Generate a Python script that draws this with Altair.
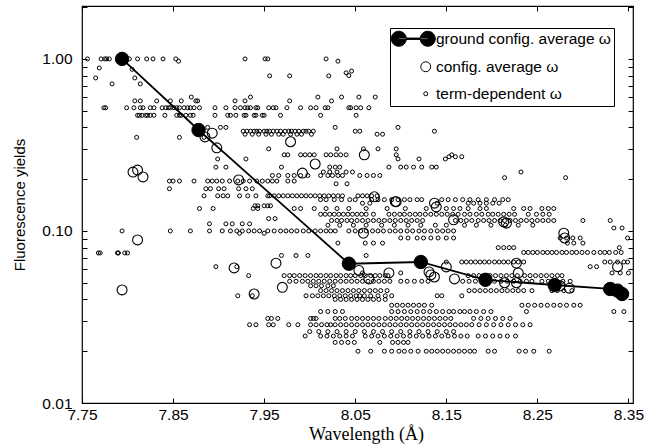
import altair as alt
import pandas as pd

S_G = "ground config. average ω"
S_C = "config. average ω"
S_T = "term-dependent ω"
SERIES = [S_G, S_C, S_T]

# ground configuration average (filled circles joined by a line)
ground_x = [7.794, 7.878, 8.043, 8.122, 8.193, 8.269, 8.330]
ground_y = [1.00, 0.386, 0.0645, 0.066, 0.052, 0.0485, 0.046]
ground_extra_x = [8.338, 8.343]
ground_extra_y = [0.045, 0.043]

# configuration average (open circles)
config_points = [
    (7.811, 0.226), (7.806, 0.220), (7.817, 0.206), (7.885, 0.352), (7.893, 0.370),
    (7.898, 0.304), (7.979, 0.330), (7.922, 0.198), (7.992, 0.217), (8.006, 0.245),
    (8.060, 0.277), (8.071, 0.158), (8.095, 0.148), (8.137, 0.145), (8.158, 0.116),
    (8.213, 0.113), (7.811, 0.0887), (7.794, 0.0454), (7.917, 0.061), (7.939, 0.043),
    (7.963, 0.065), (7.970, 0.047), (8.059, 0.097), (8.054, 0.059), (8.065, 0.0526),
    (8.087, 0.057), (8.131, 0.0578), (8.137, 0.054), (8.150, 0.0618), (8.159, 0.0526),
    (8.214, 0.050), (8.227, 0.050), (8.280, 0.091), (8.285, 0.0465), (8.338, 0.062),
    (8.341, 0.044), (8.139, 0.138), (8.094, 0.148), (8.216, 0.111), (8.229, 0.057),
    (8.275, 0.048), (8.227, 0.065), (8.279, 0.097), (8.133, 0.0555),
]

# term-dependent values, grouped by the horizontal rows they form: (yield, wavelengths)
term_bands = [
    (1.00, [7.756, 7.771, 7.775, 7.777, 7.780, 7.802, 7.811, 7.821, 7.828, 7.839, 7.853,
            7.929, 7.951, 7.954, 8.018]),
    (0.97, [7.856, 8.031]),
    (0.60, [7.870, 7.935, 8.009, 8.035, 8.054, 8.072]),
    (0.57, [7.808, 7.814, 7.832, 7.847, 7.859, 7.875, 7.877, 7.918, 7.929, 7.978, 8.024]),
    (0.52, [7.774, 7.776, 7.799, 7.807, 7.814, 7.817, 7.825, 7.829, 7.838, 7.842, 7.845,
            7.847, 7.851, 7.854, 7.857, 7.862, 7.866, 7.869, 7.873, 7.879, 7.896, 7.908,
            7.918, 7.924, 7.929, 7.932, 7.935, 7.941, 7.943, 7.955, 7.960, 7.963, 7.975,
            7.990, 8.001, 8.007, 8.017, 8.020, 8.043, 8.045, 8.051, 8.056, 8.065]),
    (0.47, [7.811, 7.813, 7.816, 7.820, 7.822, 7.825, 7.829, 7.841, 7.854, 7.857, 7.859,
            7.864, 7.869, 7.872, 7.896, 7.910, 7.913, 7.919, 7.928, 7.930, 7.939, 7.941,
            7.948, 7.950, 7.968, 8.012, 8.051]),
    (0.40, [7.888, 7.902, 7.908, 8.028, 8.097]),
    (0.38, [7.927, 7.931, 7.935, 7.939, 7.942, 7.945, 7.950, 7.953, 7.956, 7.960, 7.964,
            7.968, 7.973, 7.977, 7.980, 7.984, 7.988, 7.993, 7.996, 7.999, 8.004, 8.050,
            8.055, 8.137]),
    (0.365, [7.929, 7.937, 7.944, 7.952, 7.958, 7.966, 7.971, 7.979, 7.986, 7.991, 8.002,
             8.074, 8.080]),
    (0.35, [7.810, 7.857, 7.884]),
    (0.30, [7.955, 8.030, 8.059, 8.075, 8.095]),
    (0.277, [7.972, 7.976, 7.990, 7.995, 8.000, 8.005, 8.018, 8.023, 8.029, 8.034, 8.040,
             8.095, 8.156]),
    (0.27, [8.153, 8.160, 8.167]),
    (0.262, [7.899, 7.930, 8.097, 8.120, 8.149]),
    (0.235, [7.897, 7.908, 7.969, 8.022, 8.028, 8.033, 8.087, 8.100, 8.106, 8.114, 8.123,
             8.134, 8.139]),
    (0.22, [8.015, 8.022, 8.030, 8.040, 8.047, 8.232]),
    (0.21, [7.959, 7.966, 7.976, 7.983, 7.990, 7.998, 8.012, 8.020, 8.025, 8.031, 8.036,
            8.055, 8.063, 8.070, 8.077]),
    (0.204, [8.214, 8.281]),
    (0.195, [7.846, 7.850, 7.857, 7.873, 7.888, 7.893, 7.898, 7.904, 7.912, 7.921, 7.927,
             7.934, 7.942, 7.948, 7.954, 7.959, 7.964, 7.976, 7.983]),
    (0.188, [8.029, 8.041]),
    (0.176, [7.846, 7.886, 7.891, 7.900, 7.906, 7.922, 7.930, 7.937]),
    (0.16, [7.884, 7.899, 7.905, 7.910, 7.923, 7.932, 7.941, 7.954, 7.956, 7.961, 7.966,
            7.971, 7.976, 7.981, 7.986, 7.991, 7.996, 8.001, 8.006, 8.011, 8.016, 8.021,
            8.026, 8.031, 8.036, 8.053, 8.058, 8.063, 8.068, 8.074]),
    (0.152, [8.012, 8.018, 8.027, 8.035, 8.044, 8.050, 8.068, 8.075, 8.082, 8.090, 8.097,
             8.104, 8.110, 8.118, 8.123, 8.145, 8.152, 8.160, 8.168, 8.176, 8.185, 8.194,
             8.203, 8.212, 8.218]),
    (0.145, [8.058, 8.066, 8.140, 8.174, 8.180, 8.187, 8.194, 8.201, 8.208]),
    (0.14, [7.940, 7.943, 7.950, 7.954, 7.957]),
    (0.135, [7.879, 7.894, 7.938, 7.943, 7.983, 7.990, 8.005, 8.018, 8.030, 8.043, 8.062,
             8.085, 8.105, 8.128, 8.150, 8.158, 8.165, 8.174, 8.187, 8.194, 8.224, 8.235,
             8.242, 8.255, 8.262, 8.268]),
    (0.125, [8.012, 8.017, 8.022, 8.027, 8.032, 8.037, 8.042, 8.047, 8.052, 8.057, 8.062,
             8.070, 8.087, 8.093, 8.099, 8.104, 8.110, 8.116, 8.121, 8.127, 8.133, 8.139,
             8.145, 8.151, 8.157, 8.163, 8.170, 8.176, 8.183, 8.189, 8.196, 8.201, 8.207,
             8.213, 8.219, 8.225, 8.240, 8.249, 8.256, 8.263]),
    (0.118, [7.955, 7.962]),
    (0.115, [8.024, 8.030, 8.035, 8.041, 8.046, 8.052, 8.058, 8.064, 8.070, 8.076, 8.082,
             8.088, 8.094, 8.100, 8.106, 8.112, 8.118, 8.124, 8.160, 8.166, 8.172, 8.178,
             8.185, 8.191, 8.197, 8.203, 8.209, 8.214, 8.220, 8.226, 8.232, 8.238, 8.244,
             8.250, 8.256, 8.262, 8.268, 8.300, 8.330]),
    (0.11, [7.890, 7.908, 7.915, 7.926, 7.934]),
    (0.108, [8.020, 8.033, 8.048, 8.062, 8.079, 8.093, 8.108, 8.122, 8.138, 8.150, 8.170,
             8.183, 8.199, 8.215, 8.229, 8.245]),
    (0.104, [8.334, 8.343]),
    (0.10, [7.794, 7.847, 7.869, 7.890, 7.904, 7.913, 7.920, 7.926, 7.933, 7.939, 7.945,
            7.954, 7.961, 7.968, 7.974, 7.980, 7.986, 7.993, 7.999, 8.006, 8.012, 8.018,
            8.023, 8.028, 8.043, 8.050, 8.056, 8.062, 8.069, 8.075, 8.081, 8.088, 8.094,
            8.100, 8.107, 8.113, 8.120, 8.126, 8.133, 8.140, 8.146, 8.152, 8.158]),
    (0.097, [7.923, 7.950]),
    (0.091, [8.100, 8.108, 8.118, 8.125, 8.133, 8.141, 8.150, 8.158, 8.275, 8.282, 8.289,
             8.297, 8.349]),
    (0.085, [8.031, 8.061, 8.070, 8.080, 8.283, 8.290, 8.300]),
    (0.08, [8.207, 8.213, 8.219, 8.224, 8.340]),
    (0.0745, [7.768, 7.770, 7.789, 7.790, 7.797, 7.800]),
    (0.075, [8.235, 8.240, 8.245, 8.250, 8.256, 8.261, 8.266, 8.271, 8.277, 8.282, 8.288,
             8.293, 8.299, 8.305, 8.312, 8.319, 8.324, 8.329, 8.336, 8.342]),
    (0.072, [7.969, 7.985, 7.998, 8.062]),
    (0.066, [8.150, 8.167, 8.172, 8.177, 8.182, 8.187, 8.192, 8.197, 8.203, 8.208, 8.213,
             8.218, 8.224, 8.229, 8.235, 8.324, 8.330, 8.338, 8.345, 8.349]),
    (0.062, [7.897, 7.920, 8.308, 8.315]),
    (0.057, [8.058, 8.100, 8.332, 8.341, 8.350]),
    (0.055, [7.933, 7.972, 7.978, 7.983, 7.989, 7.995, 8.001, 8.007, 8.012, 8.018, 8.023,
             8.029, 8.034, 8.040, 8.045, 8.050, 8.056, 8.061, 8.067, 8.072, 8.077, 8.083,
             8.086, 8.174, 8.180, 8.186, 8.192, 8.198, 8.204, 8.210, 8.216, 8.222, 8.228,
             8.236, 8.242, 8.248, 8.254, 8.260, 8.266, 8.272, 8.277]),
    (0.051, [7.978, 7.985, 7.992, 7.998, 8.004, 8.010, 8.016, 8.022, 8.028, 8.034, 8.040,
             8.046, 8.052, 8.058, 8.064, 8.070, 8.076, 8.082, 8.088, 8.100, 8.107, 8.115,
             8.123, 8.130, 8.168, 8.175, 8.182, 8.189, 8.196, 8.203, 8.210, 8.217, 8.224,
             8.231, 8.238, 8.244, 8.255, 8.262, 8.270, 8.278, 8.286]),
    (0.048, [8.001, 8.007, 8.013, 8.020, 8.026]),
    (0.045, [8.012, 8.018, 8.024, 8.030, 8.036, 8.042, 8.048, 8.054, 8.060, 8.066, 8.072,
             8.078, 8.085, 8.175, 8.181, 8.187, 8.193, 8.199, 8.205, 8.211, 8.217, 8.223,
             8.229, 8.235, 8.244, 8.266, 8.272, 8.279, 8.288]),
    (0.042, [7.921, 7.937, 7.996, 8.003, 8.009, 8.015, 8.021, 8.027, 8.033, 8.039, 8.045,
             8.051, 8.055, 8.060, 8.067, 8.075, 8.083, 8.090, 8.140, 8.145, 8.167]),
    (0.040, [8.028, 8.034, 8.040, 8.046, 8.052, 8.058, 8.064, 8.070, 8.076, 8.083]),
    (0.037, [8.090, 8.096, 8.102, 8.108, 8.114, 8.120, 8.126, 8.134, 8.233, 8.240, 8.247,
             8.254, 8.261, 8.268, 8.275, 8.282, 8.290, 8.297]),
    (0.034, [8.012, 8.020, 8.028, 8.036, 8.090, 8.097, 8.104, 8.111, 8.118, 8.125, 8.132,
             8.139, 8.146, 8.153, 8.158, 8.165, 8.170, 8.176, 8.183, 8.191, 8.199, 8.238,
             8.334, 8.345]),
    (0.031, [7.954, 7.958, 7.965, 8.001, 8.004, 8.007, 8.028, 8.033, 8.039, 8.046, 8.052,
             8.058, 8.064, 8.070, 8.076, 8.083, 8.089, 8.095, 8.101, 8.107, 8.113, 8.119,
             8.125, 8.131, 8.137, 8.143, 8.149, 8.155, 8.180, 8.188, 8.196, 8.204, 8.212,
             8.220]),
    (0.0285, [7.934, 7.941, 7.955, 7.960, 7.977, 7.987, 8.001, 8.007, 8.013, 8.019, 8.023,
              8.028, 8.034, 8.040, 8.046, 8.052, 8.058, 8.064, 8.070, 8.076, 8.082, 8.088,
              8.094, 8.100, 8.106, 8.112, 8.118, 8.124, 8.130, 8.136, 8.142, 8.148, 8.154,
              8.160, 8.166, 8.172, 8.178, 8.186, 8.194, 8.202, 8.210, 8.218, 8.226, 8.234,
              8.242]),
    (0.026, [8.000, 8.010, 8.020, 8.030, 8.040, 8.050, 8.060, 8.070, 8.080, 8.090, 8.100,
             8.110, 8.120, 8.130, 8.140, 8.150, 8.158]),
    (0.0245, [7.995, 8.012, 8.019, 8.026, 8.033, 8.040, 8.047, 8.061, 8.068, 8.075, 8.082,
              8.089, 8.096, 8.103, 8.110, 8.117, 8.124, 8.131, 8.138, 8.145, 8.152, 8.159,
              8.166, 8.173, 8.185, 8.193, 8.201, 8.209, 8.217, 8.226]),
    (0.0225, [8.028, 8.035, 8.042, 8.049, 8.077, 8.091, 8.097, 8.103, 8.108]),
    (0.020, [8.053, 8.067, 8.082, 8.090, 8.098, 8.104, 8.111, 8.119, 8.128, 8.134, 8.140,
             8.146, 8.152, 8.158, 8.164, 8.170, 8.176, 8.181, 8.196, 8.203, 8.230, 8.237,
             8.246, 8.263]),
]

# isolated term-dependent points near the top
term_scatter = [
    (7.769, 0.886), (7.765, 0.775), (7.808, 0.775), (7.783, 0.716), (7.814, 0.716),
    (7.956, 0.797), (7.978, 0.797), (8.021, 0.797), (8.040, 0.830), (8.043, 0.800),
    (8.046, 0.850), (7.805, 0.870),
]

x_ticks = [7.75, 7.85, 7.95, 8.05, 8.15, 8.25, 8.35]
y_labels = [0.01, 0.1, 1.0]
y_ticks = [0.01, 0.02, 0.03, 0.04, 0.05, 0.06, 0.07, 0.08, 0.09,
           0.1, 0.2, 0.3, 0.4, 0.5, 0.6, 0.7, 0.8, 0.9, 1.0, 2.0]

# ---------------------------------------------------------------- tables
term_rows = [{"x": x, "y": y, "series": S_T} for y, xs in term_bands for x in xs]
term_rows += [{"x": x, "y": y, "series": S_T} for x, y in term_scatter]
term_df = pd.DataFrame(term_rows)
config_df = pd.DataFrame([{"x": x, "y": y, "series": S_C} for x, y in config_points])
ground_line_df = pd.DataFrame({"x": ground_x, "y": ground_y, "series": S_G})
ground_pts_df = pd.DataFrame({"x": ground_x + ground_extra_x,
                              "y": ground_y + ground_extra_y, "series": S_G})

# legend symbol for the ground series: two filled circles joined by a line
GROUND_PATH = ("M-5.14,0 A1.12,1.12 0 1,0 -2.90,0 A1.12,1.12 0 1,0 -5.14,0 Z "
               "M-0.82,0 A1.12,1.12 0 1,0 1.42,0 A1.12,1.12 0 1,0 -0.82,0 Z "
               "M-4.02,-0.1 L0.30,-0.1 L0.30,0.1 L-4.02,0.1 Z")

xscale = alt.Scale(domain=[7.75, 8.355], nice=False, zero=False)
yscale = alt.Scale(type="log", domain=[0.01, 2.03], nice=False)

leg = alt.Legend(title=None, symbolStrokeColor="black", symbolStrokeWidth=1)
size_enc = alt.Size("series:N", scale=alt.Scale(domain=SERIES, range=[180, 16]), legend=leg)
fill_enc = alt.Fill("series:N", scale=alt.Scale(domain=SERIES, range=["black", "transparent", "transparent"]), legend=leg)
stroke_enc = alt.Stroke("series:N", scale=alt.Scale(domain=SERIES, range=["black", "black", "black"]), legend=leg)
shape_enc = alt.Shape("series:N", scale=alt.Scale(domain=SERIES, range=[GROUND_PATH, "circle", "circle"]), legend=leg)

LF = "Liberation Sans"

x_label_axis = alt.Axis(values=x_ticks, format=".2f", ticks=False, domain=False, grid=False,
                        labelPadding=4, labelFont=LF, labelFontSize=15.5, labelColor="black",
                        title="Wavelength (Å)", titleFont="Liberation Serif", titleFontSize=18,
                        titleFontWeight="normal", titleColor="black", titlePadding=3,
                        titleX=284, titleAlign="center", orient="bottom", labelFlush=False)
y_label_axis = alt.Axis(values=y_labels, format=".2f", ticks=False, domain=False, grid=False,
                        labelPadding=10, labelFont=LF, labelFontSize=15.5, labelColor="black",
                        title="Fluorescence yields", titleFont=LF, titleFontSize=15,
                        titleFontWeight="normal", titleColor="black", titlePadding=14,
                        orient="left", labelFlush=False)


def tick_axis(orient, values):
    return alt.Axis(values=values, labels=False, domain=False, grid=False, ticks=True,
                    tickSize=5, tickColor="black", tickWidth=1, offset=-5, title=None,
                    orient=orient)


dots = alt.Chart(term_df).mark_point(filled=True, opacity=1, strokeWidth=1).encode(
    x=alt.X("x:Q", scale=xscale, axis=x_label_axis),
    y=alt.Y("y:Q", scale=yscale, axis=y_label_axis),
    shape=shape_enc, size=size_enc, fill=fill_enc, stroke=stroke_enc,
)
opens = alt.Chart(config_df).mark_point(filled=True, opacity=1, strokeWidth=1.1).encode(
    x=alt.X("x:Q", scale=xscale, axis=tick_axis("bottom", x_ticks)),
    y=alt.Y("y:Q", scale=yscale, axis=tick_axis("left", y_ticks)),
    shape=shape_enc, size=size_enc, fill=fill_enc, stroke=stroke_enc,
)
line = alt.Chart(ground_line_df).mark_line(color="black", strokeWidth=1.8).encode(
    x=alt.X("x:Q", scale=xscale, axis=None),
    y=alt.Y("y:Q", scale=yscale, axis=None),
)
filled = alt.Chart(ground_pts_df).mark_point(filled=True, opacity=1, strokeWidth=1).encode(
    x=alt.X("x:Q", scale=xscale, axis=tick_axis("top", x_ticks)),
    y=alt.Y("y:Q", scale=yscale, axis=tick_axis("right", y_ticks)),
    shape=alt.value("circle"), size=size_enc, fill=fill_enc, stroke=stroke_enc,
)

chart = alt.layer(dots, opens, line, filled).resolve_axis(
    x="independent", y="independent"
).properties(
    width=551, height=397,
    autosize=alt.AutoSizeParams(type="none"),
    padding={"left": 82, "top": 6, "right": 19, "bottom": 44},
).configure_view(
    stroke="black", strokeWidth=1.2
).configure_legend(
    orient="none", legendX=308, legendY=22, padding=3,
    strokeColor="black", fillColor="white", labelFont=LF, labelFontSize=15.5,
    labelColor="black", labelLimit=0, rowPadding=10, labelOffset=2.5, symbolOffset=25,
    symbolStrokeColor="black", symbolStrokeWidth=1,
)

chart.save("out.html", embed_options={"renderer": "svg", "actions": False})
